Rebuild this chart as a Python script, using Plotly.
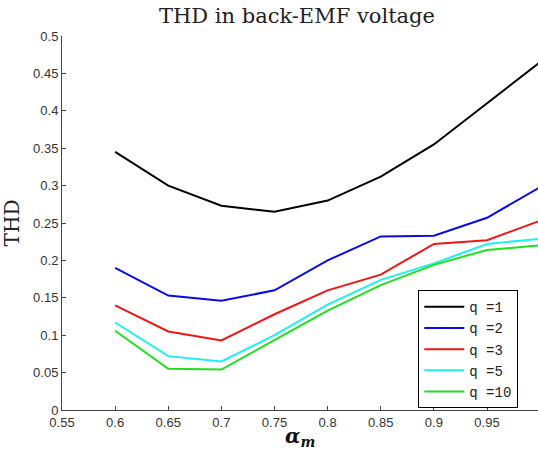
import plotly.graph_objects as go

alpha_m = [0.6, 0.65, 0.7, 0.75, 0.8, 0.85, 0.9, 0.95, 1.0]
thd_q1 = [0.345, 0.300, 0.273, 0.265, 0.280, 0.312, 0.355, 0.410, 0.465]
thd_q2 = [0.190, 0.153, 0.146, 0.160, 0.200, 0.232, 0.233, 0.257, 0.298]
thd_q3 = [0.140, 0.105, 0.093, 0.128, 0.160, 0.181, 0.222, 0.227, 0.253]
thd_q5 = [0.117, 0.072, 0.065, 0.100, 0.141, 0.174, 0.196, 0.222, 0.229]
thd_q10 = [0.106, 0.055, 0.054, 0.094, 0.133, 0.167, 0.194, 0.214, 0.220]
series_names = ["q =1", "q =2", "q =3", "q =5", "q =10"]
series_colors = ["#000000", "#0a0ae6", "#ee1515", "#1ef0f0", "#1ee01e"]
x_ticks = [0.55, 0.6, 0.65, 0.7, 0.75, 0.8, 0.85, 0.9, 0.95, 1.0]
y_ticks = [0, 0.05, 0.1, 0.15, 0.2, 0.25, 0.3, 0.35, 0.4, 0.45, 0.5]

fig = go.Figure()
for name, ys, col in zip(series_names, [thd_q1, thd_q2, thd_q3, thd_q5, thd_q10], series_colors):
    fig.add_trace(go.Scatter(x=alpha_m, y=ys, mode="lines", name=name,
                             line=dict(color=col, width=2)))

axis_common = dict(showline=True, linecolor="#454545", linewidth=1, ticks="inside",
                   ticklen=4, tickcolor="#454545", showgrid=False, zeroline=False,
                   tickfont=dict(family="Liberation Sans, Arial", size=13, color="#333333"))

fig.update_layout(
    width=538, height=452,
    margin=dict(l=62, r=0, t=36, b=42),
    paper_bgcolor="white", plot_bgcolor="white",
    title=dict(text="THD in back-EMF voltage", x=0.552, xanchor="center", y=0.966, yanchor="middle",
               font=dict(family="DejaVu Serif", size=21, color="#222222")),
    xaxis=dict(range=[0.55, 0.998], tickvals=x_ticks,
               ticktext=[f"{v:g}" for v in x_ticks],
               **axis_common),
    yaxis=dict(range=[0, 0.5], tickvals=y_ticks,
               ticktext=[f"{v:g}" for v in y_ticks],
               title=dict(text="THD", font=dict(family="DejaVu Serif", size=20, color="#222222"),
                          standoff=8),
               **axis_common),
    legend=dict(x=0.7485, xanchor="left", y=0.005, yanchor="bottom",
                bordercolor="#000000", borderwidth=1, bgcolor="white",
                font=dict(family="Liberation Mono", size=14, color="#222222"),
                tracegroupgap=0, itemwidth=40),
    showlegend=True,
    annotations=[dict(text="<b><i>α</i></b><sub><b><i>m</i></b></sub>",
                      xref="paper", yref="paper", x=0.5, y=-0.072,
                      xanchor="center", yanchor="middle", showarrow=False,
                      font=dict(family="DejaVu Serif", size=20, color="#111111"))],
)

fig.write_html("out.html", config={"displayModeBar": False},
               post_script="document.body.style.margin='0';document.body.style.overflow='hidden';")
